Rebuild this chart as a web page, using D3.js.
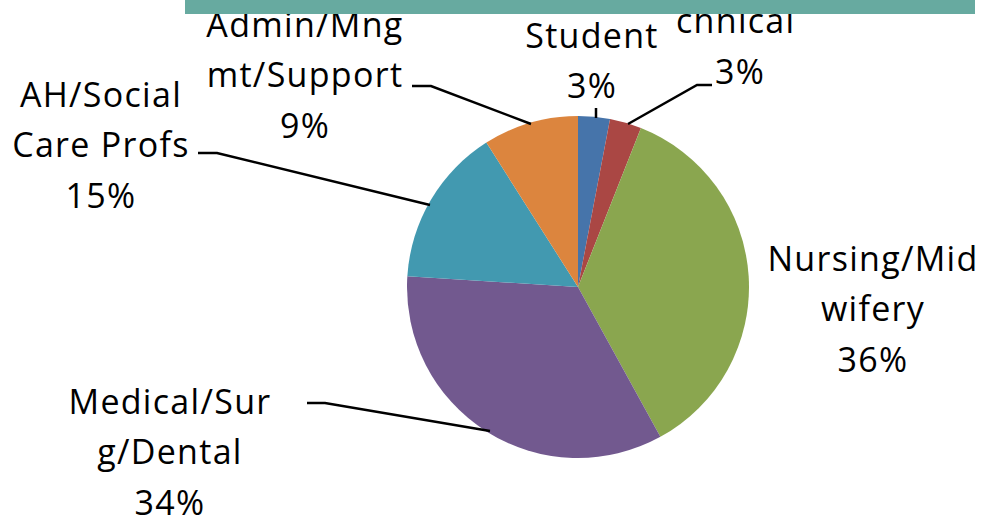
<!DOCTYPE html>
<html>
<head>
<meta charset="utf-8">
<script src="https://cdn.jsdelivr.net/npm/d3@7"></script>
<style>
  body { margin: 0; background: #fff; }
  svg { display: block; }
</style>
</head>
<body>
<svg id="chart" width="989" height="520"></svg>
<script>
// data
var categories = ["Student", "Technical", "Nursing/Midwifery", "Medical/Surg/Dental", "AH/Social Care Profs", "Admin/Mngmt/Support"];
var values = [3, 3, 36, 34, 15, 9];
var colors = ["#4674aa", "#aa4744", "#8aa64f", "#72598f", "#4299b0", "#dc853e"];

var width = 989, height = 520;
var cx = 578, cy = 287, radius = 171;

// label layout (wrapped lines, centre x, first baseline, leader line)
var labels = {
  "Student": { lines: ["Student"], x: 592, y: 48, line: [[596, 108], [596, 118]] },
  "Technical": { lines: ["chnical"], x: 676, y: 33, anchor: "start", pctX: 740, line: [[628, 124], [697, 85], [712, 85]] },
  "Nursing/Midwifery": { lines: ["Nursing/Mid", "wifery"], x: 873, y: 271 },
  "Medical/Surg/Dental": { lines: ["Medical/Sur", "g/Dental"], x: 170, y: 414, line: [[307, 403], [325, 403], [490, 431]] },
  "AH/Social Care Profs": { lines: ["AH/Social", "Care Profs"], x: 101, y: 107, line: [[198, 153], [217, 153], [430, 205]] },
  "Admin/Mngmt/Support": { lines: ["Admin/Mng", "mt/Support"], x: 305, y: 37, line: [[412, 86], [431, 86], [531, 124]] }
};
var lineH = 50.3;

var svg = d3.select("#chart");
var total = d3.sum(values);
var pct = d3.format(".0%");

var pie = d3.pie().sort(null).value(function (d) { return d; });
var arc = d3.arc().innerRadius(0).outerRadius(radius);

var bounds = svg.append("g")
  .attr("transform", "translate(" + cx + "," + cy + ")");

bounds.selectAll("path")
  .data(pie(values))
  .enter()
  .append("path")
  .attr("d", arc)
  .attr("fill", function (d, i) { return colors[i]; });

// leader lines
var lineGen = d3.line();
categories.forEach(function (c) {
  var l = labels[c];
  if (!l.line) return;
  svg.append("path")
    .attr("d", lineGen(l.line))
    .attr("fill", "none")
    .attr("stroke", "#000")
    .attr("stroke-width", 2.5);
});

// labels
categories.forEach(function (c, i) {
  var l = labels[c];
  var g = svg.append("g")
    .attr("font-family", "'Open Sans', sans-serif")
    .attr("font-size", 34)
    .attr("letter-spacing", 1.3)
    .attr("fill", "#000");
  l.lines.forEach(function (t, j) {
    g.append("text")
      .attr("x", l.x)
      .attr("y", l.y + j * lineH)
      .attr("text-anchor", l.anchor || "middle")
      .text(t);
  });
  g.append("text")
    .attr("x", l.pctX || l.x)
    .attr("y", l.y + l.lines.length * lineH + (l.pctX ? 1 : 0))
    .attr("text-anchor", "middle")
    .text(pct(values[i] / total));
});

// banner strip across the top
svg.append("rect")
  .attr("x", 185)
  .attr("y", 0)
  .attr("width", 790)
  .attr("height", 14)
  .attr("fill", "#67aaa0");
</script>
</body>
</html>
